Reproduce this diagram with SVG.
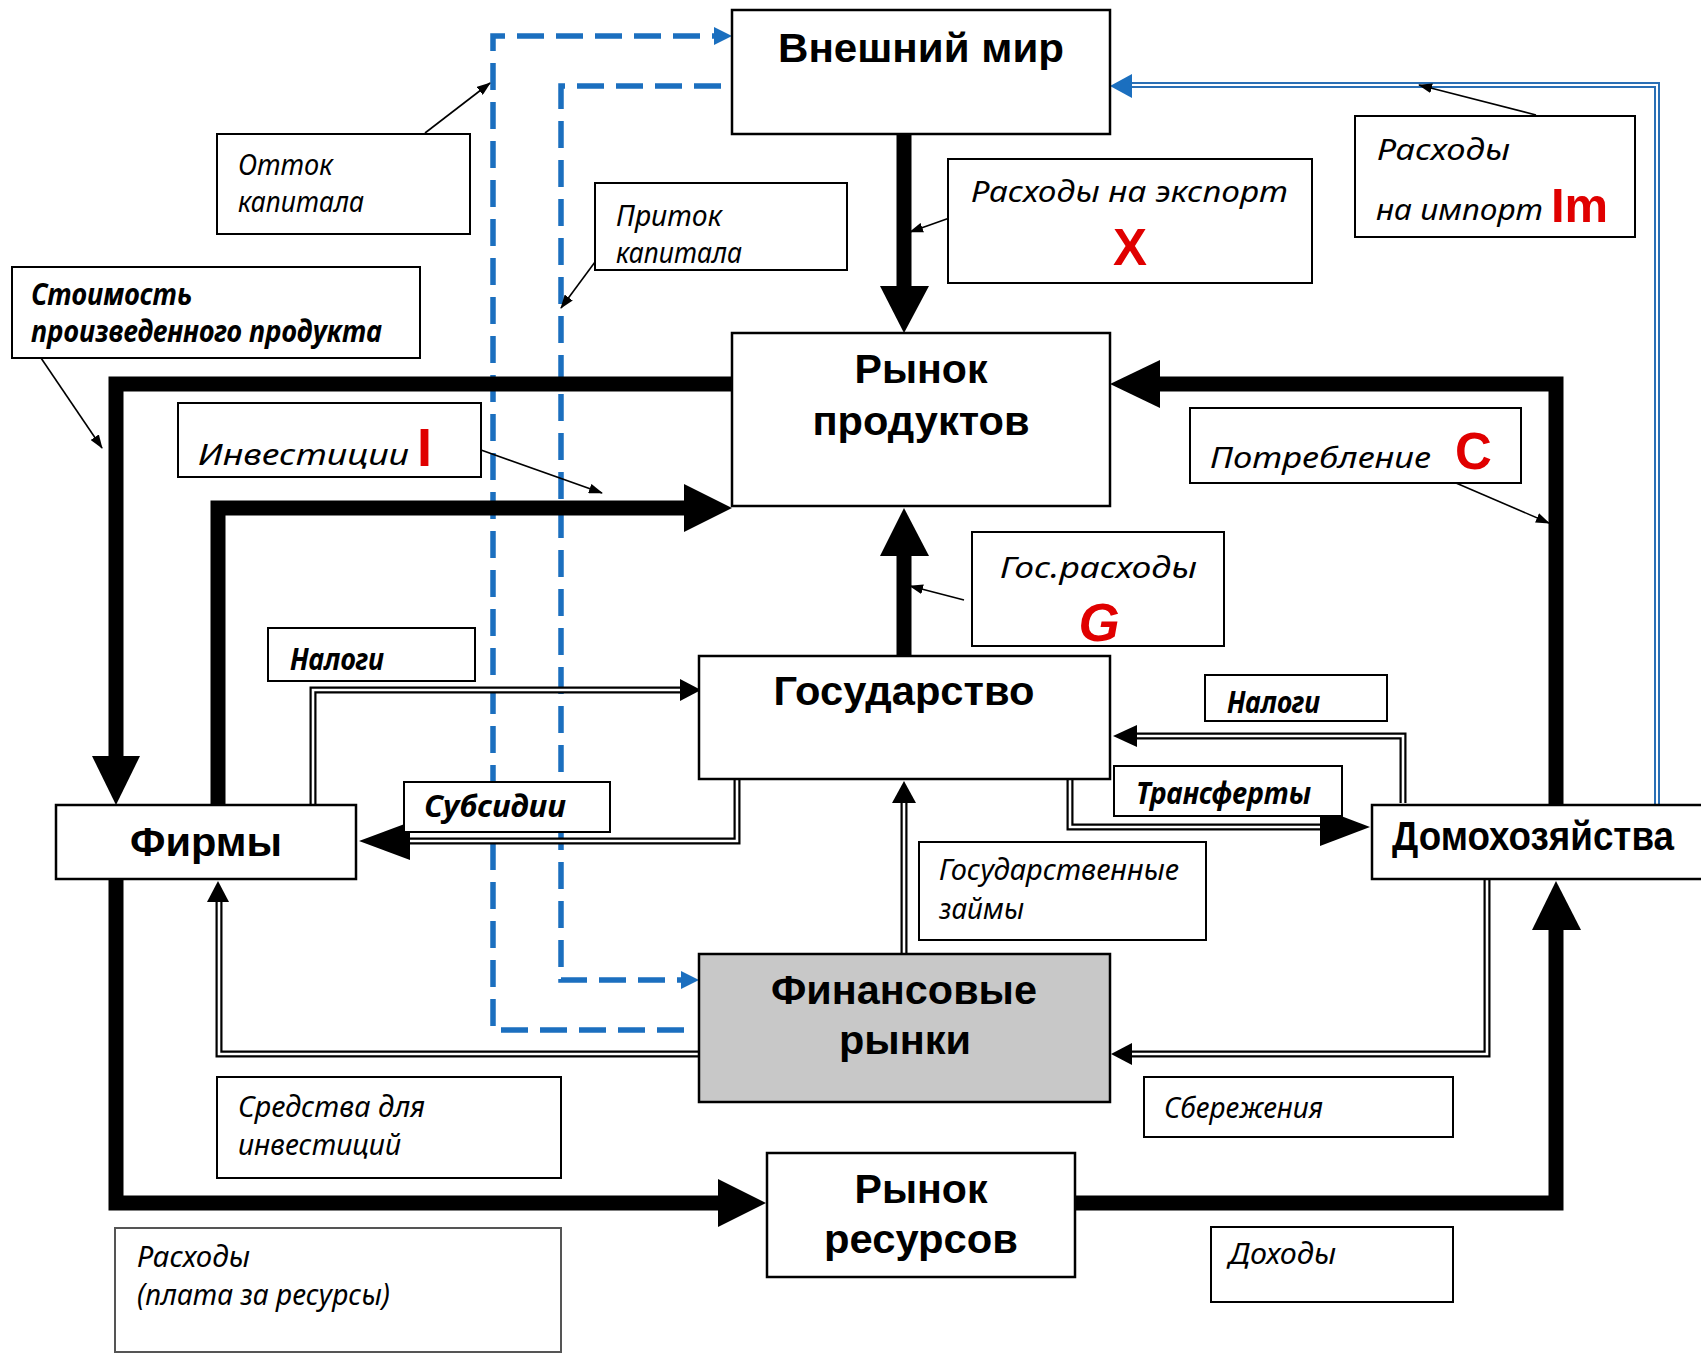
<svg xmlns="http://www.w3.org/2000/svg" width="1701" height="1354" viewBox="0 0 1701 1354" lang="ru">
<style>
.node{fill:#fff;stroke:#000;stroke-width:2.5}
.lbl{fill:#fff;stroke:#000;stroke-width:2}
.nt{font-family:"Liberation Sans",Arial,sans-serif;font-weight:bold;font-size:40px;fill:#000;text-anchor:middle}
.lt{font-family:"Noto Sans","Liberation Sans",Arial,sans-serif;font-style:italic;font-size:30px;fill:#000}
.b{font-weight:bold}
.red{font-family:"Liberation Sans",Arial,sans-serif;font-weight:bold;fill:#e00000}
.thick{fill:none;stroke:#000;stroke-width:15;stroke-linejoin:miter}
.dblo{fill:none;stroke:#000;stroke-width:7;stroke-linejoin:miter}
.dbli{fill:none;stroke:#fff;stroke-width:2.6;stroke-linejoin:miter}
.bluo{fill:none;stroke:#2a6fb5;stroke-width:6}
.blui{fill:none;stroke:#fff;stroke-width:2}
.dash{fill:none;stroke:#1b6fbf;stroke-width:5.5;stroke-dasharray:27 12}
.ann{fill:none;stroke:#000;stroke-width:1.6}
.ah{fill:#000}
.bh{fill:#1b6fbf}
</style>
<defs>
<marker id="sm" markerUnits="userSpaceOnUse" markerWidth="14" markerHeight="10" refX="13" refY="5" orient="auto">
<path d="M0,0 L14,5 L0,10 z" fill="#000"/>
</marker>
</defs>
<rect width="1701" height="1354" fill="#fff"/>

<g id="connectors">
<path class="dash" d="M684,1030 H493 V36 H714"/>
<polygon class="bh" points="714,27 732,36 714,45"/>
<path class="dash" d="M721,86 H561 V980 H681"/>
<polygon class="bh" points="681,971 699,980 681,989"/>

<path class="thick" d="M732,384 H116 V757"/>
<polygon class="ah" points="92,756 140,756 116,805"/>
<path class="thick" d="M218,805 V508 H686"/>
<polygon class="ah" points="684,484 732,508 684,532"/>
<path class="thick" d="M904,134 V287"/>
<polygon class="ah" points="880,286 929,286 904,333"/>
<path class="thick" d="M904,656 V555"/>
<polygon class="ah" points="880,556 929,556 904,508"/>
<path class="thick" d="M1556,805 V384 H1158"/>
<polygon class="ah" points="1160,360 1110,384 1160,408"/>
<path class="thick" d="M116,879 V1203 H720"/>
<polygon class="ah" points="718,1179 766,1203 718,1227"/>
<path class="thick" d="M1075,1203 H1556 V928"/>
<polygon class="ah" points="1532,930 1556,881 1581,930"/>

<path class="dblo" d="M313,810 V690 H682"/>
<path class="dbli" d="M313,810 V690 H682"/>
<polygon class="ah" points="680,679 701,690 680,701"/>

<path class="dblo" d="M737,780 V841 H408"/>
<path class="dbli" d="M737,780 V841 H408"/>
<polygon class="ah" points="410,822 359,841 410,860"/>

<path class="dblo" d="M1403,803 V736 H1135"/>
<path class="dbli" d="M1403,803 V736 H1135"/>
<polygon class="ah" points="1137,725 1113,736 1137,747"/>

<path class="dblo" d="M1070,780 V827 H1322"/>
<path class="dbli" d="M1070,780 V827 H1322"/>
<polygon class="ah" points="1320,808 1370,827 1320,846"/>

<path class="dblo" d="M904,953 V801"/>
<path class="dbli" d="M904,953 V801"/>
<polygon class="ah" points="892,803 904,781 916,803"/>

<path class="dblo" d="M699,1054 H219 V900"/>
<path class="dbli" d="M699,1054 H219 V900"/>
<polygon class="ah" points="207,902 218,881 229,902"/>

<path class="dblo" d="M1487,880 V1054 H1130"/>
<path class="dbli" d="M1487,880 V1054 H1130"/>
<polygon class="ah" points="1132,1043 1111,1054 1132,1065"/>

<path class="bluo" d="M1657,805 V85 H1130"/>
<path class="blui" d="M1657,805 V85 H1130"/>
<polygon class="bh" points="1132,74 1110,86 1132,98"/>

<line class="ann" x1="425" y1="133" x2="490" y2="83" marker-end="url(#sm)"/>
<line class="ann" x1="595" y1="262" x2="561" y2="308" marker-end="url(#sm)"/>
<line class="ann" x1="41" y1="358" x2="102" y2="448" marker-end="url(#sm)"/>
<line class="ann" x1="481" y1="450" x2="602" y2="493" marker-end="url(#sm)"/>
<line class="ann" x1="972" y1="210" x2="910" y2="232" marker-end="url(#sm)"/>
<line class="ann" x1="1536" y1="115" x2="1419" y2="85" marker-end="url(#sm)"/>
<line class="ann" x1="1449" y1="480" x2="1549" y2="523" marker-end="url(#sm)"/>
<line class="ann" x1="964" y1="600" x2="910" y2="586" marker-end="url(#sm)"/>
</g>

<g id="vneshniy-mir">
<rect class="node" x="732" y="10" width="378" height="124"/>
<text class="nt" x="921" y="62" font-size="42" textLength="286" lengthAdjust="spacingAndGlyphs">Внешний мир</text>
</g>
<g id="rynok-produktov">
<rect class="node" x="732" y="333" width="378" height="173"/>
<text class="nt" x="921" y="383" textLength="133" lengthAdjust="spacingAndGlyphs">Рынок</text>
<text class="nt" x="921" y="435" textLength="217" lengthAdjust="spacingAndGlyphs">продуктов</text>
</g>
<g id="gosudarstvo">
<rect class="node" x="699" y="656" width="411" height="123"/>
<text class="nt" x="904" y="705" textLength="261" lengthAdjust="spacingAndGlyphs">Государство</text>
</g>
<g id="firmy">
<rect class="node" x="56" y="805" width="300" height="74"/>
<text class="nt" x="206" y="856" textLength="152" lengthAdjust="spacingAndGlyphs">Фирмы</text>
</g>
<g id="domohozyaystva">
<rect class="node" x="1372" y="805" width="332" height="74"/>
<text class="nt" x="1533" y="850" textLength="282" lengthAdjust="spacingAndGlyphs">Домохозяйства</text>
</g>
<g id="finansovye-rynki">
<rect class="node" x="699" y="954" width="411" height="148" style="fill:#c8c8c8"/>
<text class="nt" x="904" y="1004" textLength="266" lengthAdjust="spacingAndGlyphs">Финансовые</text>
<text class="nt" x="905" y="1054" textLength="132" lengthAdjust="spacingAndGlyphs">рынки</text>
</g>
<g id="rynok-resursov">
<rect class="node" x="767" y="1153" width="308" height="124"/>
<text class="nt" x="921" y="1203" textLength="133" lengthAdjust="spacingAndGlyphs">Рынок</text>
<text class="nt" x="921" y="1253" textLength="194" lengthAdjust="spacingAndGlyphs">ресурсов</text>
</g>

<g id="lbl-ottok">
<rect class="lbl" x="217" y="134" width="253" height="100"/>
<text class="lt" x="238" y="175" textLength="95" lengthAdjust="spacingAndGlyphs">Отток</text>
<text class="lt" x="238" y="212" textLength="126" lengthAdjust="spacingAndGlyphs">капитала</text>
</g>
<g id="lbl-pritok">
<rect class="lbl" x="595" y="183" width="252" height="87"/>
<text class="lt" x="616" y="226" textLength="106" lengthAdjust="spacingAndGlyphs">Приток</text>
<text class="lt" x="616" y="263" textLength="126" lengthAdjust="spacingAndGlyphs">капитала</text>
</g>
<g id="lbl-stoimost">
<rect class="lbl" x="12" y="267" width="408" height="91"/>
<text class="lt b" x="31" y="305" textLength="161" lengthAdjust="spacingAndGlyphs">Стоимость</text>
<text class="lt b" x="31" y="342" textLength="351" lengthAdjust="spacingAndGlyphs">произведенного продукта</text>
</g>
<g id="lbl-investicii">
<rect class="lbl" x="178" y="403" width="303" height="74"/>
<text class="lt" x="198" y="465" font-size="35" textLength="211" lengthAdjust="spacingAndGlyphs">Инвестиции</text>
<text class="red" x="417" y="466" font-size="54">I</text>
</g>
<g id="lbl-eksport">
<rect class="lbl" x="948" y="159" width="364" height="124"/>
<text class="lt" x="971" y="202" font-size="33" textLength="317" lengthAdjust="spacingAndGlyphs">Расходы на экспорт</text>
<text class="red" x="1130" y="265" font-size="51" text-anchor="middle">X</text>
</g>
<g id="lbl-import">
<rect class="lbl" x="1355" y="116" width="280" height="121"/>
<text class="lt" x="1377" y="160" font-size="34" textLength="133" lengthAdjust="spacingAndGlyphs">Расходы</text>
<text class="lt" x="1376" y="220" font-size="34" textLength="167" lengthAdjust="spacingAndGlyphs">на импорт</text>
<text class="red" x="1551" y="222" font-size="49">Im</text>
</g>
<g id="lbl-potreblenie">
<rect class="lbl" x="1190" y="408" width="331" height="75"/>
<text class="lt" x="1210" y="468" font-size="32" textLength="221" lengthAdjust="spacingAndGlyphs">Потребление</text>
<text class="red" x="1455" y="469" font-size="51">C</text>
</g>
<g id="lbl-gosrashody">
<rect class="lbl" x="972" y="532" width="252" height="114"/>
<text class="lt" x="1000" y="578" font-size="34" textLength="197" lengthAdjust="spacingAndGlyphs">Гос.расходы</text>
<text class="red" x="1099" y="641" font-size="53" font-style="italic" text-anchor="middle">G</text>
</g>
<g id="lbl-nalogi-1">
<rect class="lbl" x="268" y="628" width="207" height="53"/>
<text class="lt b" x="290" y="670" textLength="94" lengthAdjust="spacingAndGlyphs">Налоги</text>
</g>
<g id="lbl-subsidii">
<rect class="lbl" x="404" y="782" width="206" height="50"/>
<text class="lt b" x="424" y="817" textLength="142" lengthAdjust="spacingAndGlyphs">Субсидии</text>
</g>
<g id="lbl-nalogi-2">
<rect class="lbl" x="1205" y="675" width="182" height="46"/>
<text class="lt b" x="1227" y="713" textLength="93" lengthAdjust="spacingAndGlyphs">Налоги</text>
</g>
<g id="lbl-transferty">
<rect class="lbl" x="1114" y="766" width="228" height="50"/>
<text class="lt b" x="1136" y="804" font-size="31" textLength="175" lengthAdjust="spacingAndGlyphs">Трансферты</text>
</g>
<g id="lbl-gos-zaymy">
<rect class="lbl" x="919" y="842" width="287" height="98"/>
<text class="lt" x="939" y="880" font-size="31" textLength="240" lengthAdjust="spacingAndGlyphs">Государственные</text>
<text class="lt" x="939" y="919" font-size="31" textLength="85" lengthAdjust="spacingAndGlyphs">займы</text>
</g>
<g id="lbl-sredstva">
<rect class="lbl" x="217" y="1077" width="344" height="101"/>
<text class="lt" x="238" y="1117" textLength="187" lengthAdjust="spacingAndGlyphs">Средства для</text>
<text class="lt" x="238" y="1155" textLength="163" lengthAdjust="spacingAndGlyphs">инвестиций</text>
</g>
<g id="lbl-sberezheniya">
<rect class="lbl" x="1144" y="1077" width="309" height="60"/>
<text class="lt" x="1164" y="1118" font-size="31" textLength="159" lengthAdjust="spacingAndGlyphs">Сбережения</text>
</g>
<g id="lbl-rashody">
<rect class="lbl" x="115" y="1228" width="446" height="124" style="stroke:#555"/>
<text class="lt" x="137" y="1267" textLength="113" lengthAdjust="spacingAndGlyphs">Расходы</text>
<text class="lt" x="137" y="1305" textLength="253" lengthAdjust="spacingAndGlyphs">(плата за ресурсы)</text>
</g>
<g id="lbl-dohody">
<rect class="lbl" x="1211" y="1227" width="242" height="75"/>
<text class="lt" x="1229" y="1264" textLength="107" lengthAdjust="spacingAndGlyphs">Доходы</text>
</g>
</svg>
